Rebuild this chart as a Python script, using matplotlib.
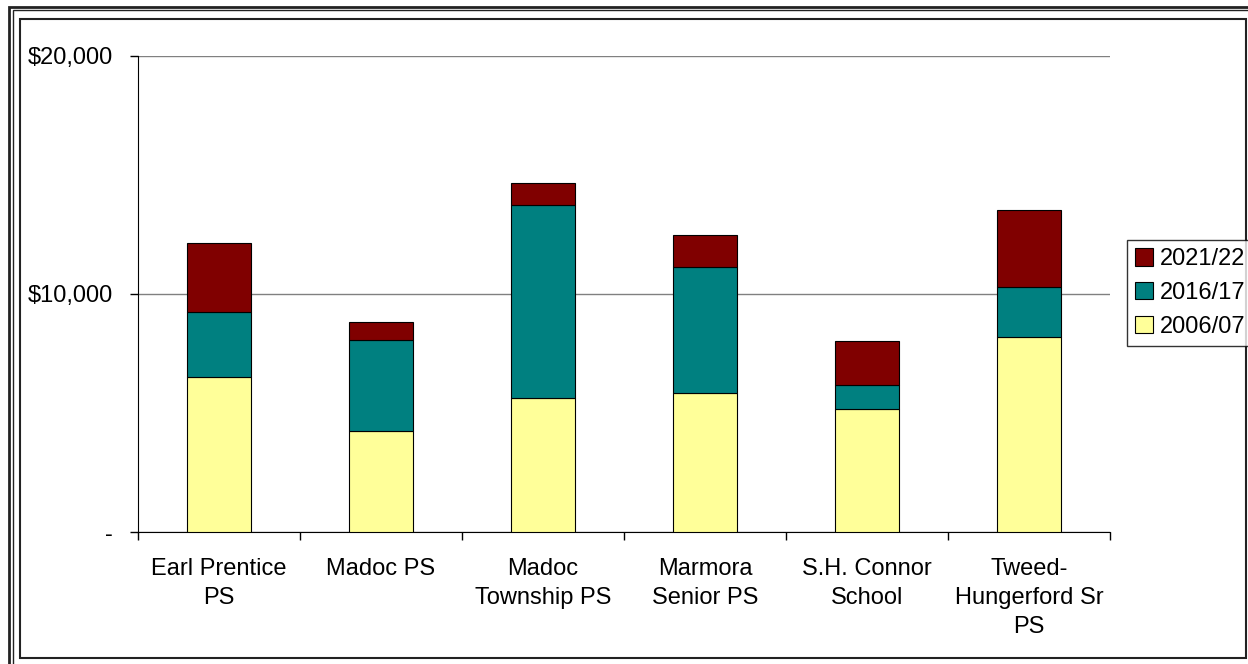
import matplotlib.pyplot as plt
import numpy as np
from matplotlib.patches import Rectangle

plt.rcParams['font.family'] = ['Liberation Sans', 'DejaVu Sans']

# data
schools = ['Earl Prentice\nPS', 'Madoc PS', 'Madoc\nTownship PS', 'Marmora\nSenior PS',
           'S.H. Connor\nSchool', 'Tweed-\nHungerford Sr\nPS']
v2006 = [6510, 4240, 5630, 5840, 5170, 8190]
v2016 = [2730, 3830, 8110, 5290, 1010, 2100]
v2021 = [2900, 760, 930, 1350, 1850, 3240]

W, H = 1248, 664
fig = plt.figure(figsize=(W / 100, H / 100), dpi=100)
ax = fig.add_axes([138 / W, 1 - 532 / H, (1110 - 138) / W, (532 - 56) / H])

x = np.arange(len(schools))
bw = 0.39
b1 = np.array(v2006)
b2 = b1 + np.array(v2016)
ax.bar(x, v2006, bw, color='#ffff99', edgecolor='black', linewidth=0.8, label='2006/07', zorder=3)
ax.bar(x, v2016, bw, bottom=b1, color='#008080', edgecolor='black', linewidth=0.8, label='2016/17', zorder=3)
ax.bar(x, v2021, bw, bottom=b2, color='#800000', edgecolor='black', linewidth=0.8, label='2021/22', zorder=3)

ax.set_xlim(-0.5, len(schools) - 0.5)
ax.set_ylim(0, 20000)
ax.set_yticks([0, 10000, 20000])
ax.set_yticklabels(['-', '$10,000', '$20,000'], fontsize=17)
ax.yaxis.grid(True, color='#808080', linewidth=1, zorder=0)
ax.set_xticks(x)
ax.set_xticklabels(schools, fontsize=17, linespacing=1.4)
ax.tick_params(axis='x', length=0, pad=19)
ax.set_xticks(np.arange(len(schools) + 1) - 0.5, minor=True)
ax.tick_params(axis='x', which='minor', length=6, width=1)
ax.tick_params(axis='y', length=6, width=1, pad=12)
for side in ['top', 'right']:
    ax.spines[side].set_visible(False)
ax.spines['left'].set_color('black')
ax.spines['bottom'].set_color('black')

handles, labels = ax.get_legend_handles_labels()
leg = fig.legend(handles[::-1], labels[::-1], loc='upper left',
                 bbox_to_anchor=(1127 / W, 1 - 240 / H), fontsize=17,
                 frameon=True, fancybox=False, edgecolor='black',
                 handlelength=0.75, handleheight=0.75, handletextpad=0.3,
                 labelspacing=0.5, borderpad=0.35, borderaxespad=0)
leg.get_frame().set_linewidth(1)

# chart frame: double outer line + inner line
tr = fig.transFigure
def frame(x0, y0, x1, y1, lw):
    fig.patches.append(Rectangle((x0 / W, 1 - y1 / H), (x1 - x0) / W, (y1 - y0) / H,
                                 transform=tr, fill=False, edgecolor='#222222', linewidth=lw))
frame(9, 7, 1260, 680, 2)
frame(13, 10, 1256, 676, 1)
frame(20, 19, 1246, 658, 1.5)

fig.savefig('out.png', dpi=100)
